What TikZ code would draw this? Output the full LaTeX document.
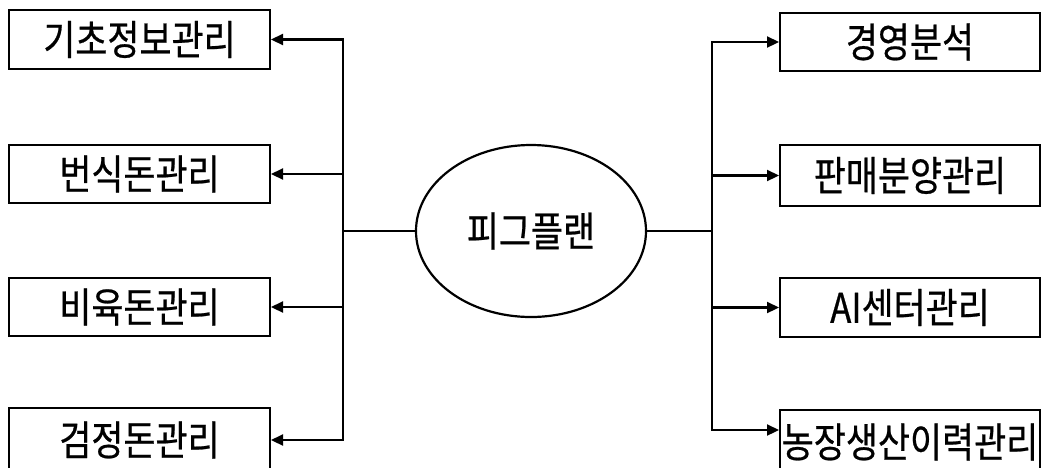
\documentclass[tikz,border=0pt]{standalone}
\usepackage{fontspec}
\newfontfamily\kr[FakeStretch=0.85,FakeBold=0.6]{Noto Sans CJK KR}
\usetikzlibrary{arrows.meta,shapes.geometric}
\begin{document}
\begin{tikzpicture}[x=1pt,y=-1pt,
  every node/.style={font=\kr\fontsize{41}{44}\selectfont},
  boxnode/.style={draw,line width=2pt,minimum width=261pt,inner sep=0pt,anchor=center},
  conn/.style={line width=2.2pt},
  arr/.style={conn,-{Triangle[length=12pt,width=11pt]}}]
\useasboundingbox (0,0) rectangle (1041,467);
\clip (0,0) rectangle (1041,467);
% left boxes
\node[boxnode,minimum height=59pt] (lb1) at (139.5,39.5) {기초정보관리};
\node[boxnode,minimum height=58pt] (lb2) at (139.5,174) {번식돈관리};
\node[boxnode,minimum height=58pt] (lb3) at (139.5,307) {비육돈관리};
\node[boxnode,minimum height=64pt] (lb4) at (139.5,440) {검정돈관리};
% right boxes
\node[boxnode,minimum width=260pt,minimum height=58pt] (rb1) at (910,42) {경영분석};
\node[boxnode,minimum width=260pt,minimum height=61pt] (rb2) at (910,175.5) {판매분양관리};
\node[boxnode,minimum width=260pt,minimum height=59pt] (rb3) at (910,307.5) {AI센터관리};
\node[boxnode,minimum width=260pt,minimum height=64pt] (rb4) at (910,442) {농장생산이력관리};
% centre
\node[draw,ellipse,line width=2.2pt,minimum width=230pt,minimum height=172pt,inner sep=0pt] (c) at (531,231) {피그플랜};
% trunks
\coordinate (L) at (343,231);
\coordinate (R) at (712,231);
\coordinate (r4) at (712,430);
\draw[conn] (c.west) -- (L);
\draw[conn] (c.east) -- (R);
\draw[arr] (L) |- (lb1.east);
\draw[arr] (L) |- (lb2.east);
\draw[arr] (L) |- (lb3.east);
\draw[arr] (L) |- (lb4.east);
\draw[arr] (R) |- (rb1.west);
\draw[arr] (R) |- (rb2.west);
\draw[arr] (R) |- (rb3.west);
\draw[arr] (R) -- (r4) -- (r4 -| rb4.west);
\end{tikzpicture}
\end{document}
